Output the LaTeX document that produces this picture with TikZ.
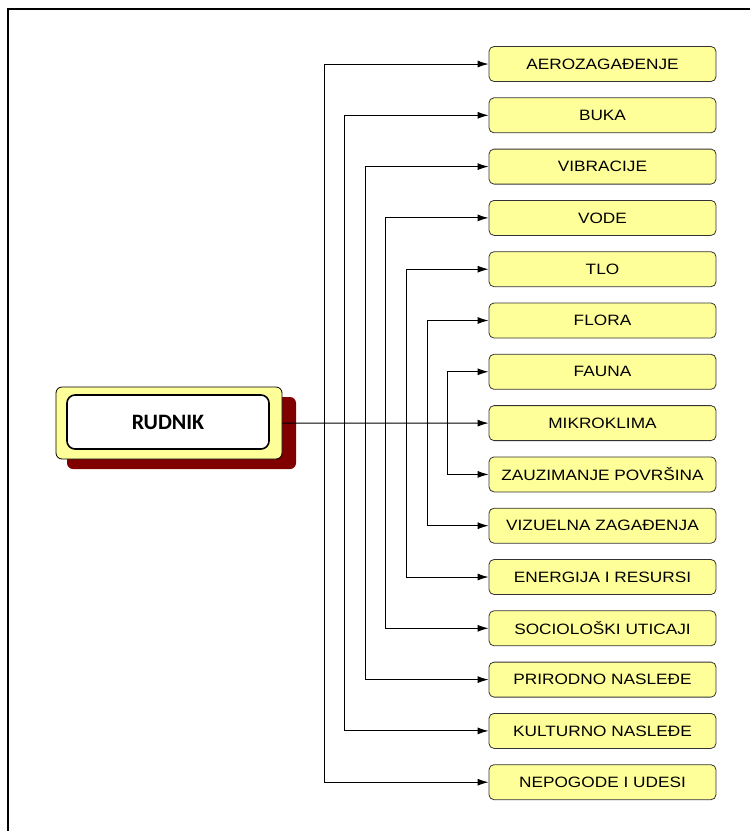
\documentclass[tikz,border=0pt]{standalone}
\usepackage{fontspec}
\newfontfamily\itemfont[FakeStretch=1.15]{Liberation Sans}
\newfontfamily\rudnikfont{Carlito}
\usetikzlibrary{arrows.meta}
\definecolor{boxyellow}{RGB}{255,255,153}
\definecolor{shadered}{RGB}{128,0,0}

\begin{document}
\begin{tikzpicture}[
		x=1pt, y=-1pt,
		item/.style={draw=black!80, fill=boxyellow, rounded corners=5pt, line width=0.8pt,
			minimum width=227pt, minimum height=35pt, inner sep=0pt,
			font=\itemfont\fontsize{15}{17}\selectfont},
		link/.style={-{Latex[length=11pt,width=7pt]}, line width=1pt},
		>=Latex]
	\useasboundingbox (0,0) rectangle (750,831);
	%% frame
	\draw[line width=2pt] (8,831) -- (8,9) -- (750,9);
	%% main node with shadow
	\node at (181.5,433) [fill=shadered, rounded corners=6pt, minimum width=229pt, minimum height=72pt] (shade) {};
	\node at (169,423) [draw, fill=boxyellow, rounded corners=6pt, line width=0.8pt, minimum width=226pt, minimum height=72pt] (rudnik) {};
	\node at (168,422) [draw, fill=white, rounded corners=8pt, line width=1.6pt, minimum width=202pt, minimum height=54pt,
		font=\rudnikfont\bfseries\fontsize{22}{24}\selectfont] (rudniklabel) {RUDNIK};
	%% impact boxes
	\foreach \t [count=\i] in {AEROZAGAĐENJE, BUKA, VIBRACIJE, VODE, TLO, FLORA, FAUNA, MIKROKLIMA,
		ZAUZIMANJE POVRŠINA, VIZUELNA ZAGAĐENJA, ENERGIJA I RESURSI, SOCIOLOŠKI UTICAJI,
		PRIRODNO NASLEĐE, KULTURNO NASLEĐE, NEPOGODE I UDESI}
		\node at (602.5,12.7+51.3*\i) [item] (b\i) {\t};
	%% connectors
	\draw[link] (rudnik.east) -- (b8.west);
	\foreach \k in {1,...,7} {
		\pgfmathtruncatemacro\m{16-\k}
		\coordinate (j\k) at (303.4+20.6*\k,423);
		\draw[link] (j\k) |- (b\k.west);
		\draw[link] (j\k) |- (b\m.west);
	}
\end{tikzpicture}
\end{document}
